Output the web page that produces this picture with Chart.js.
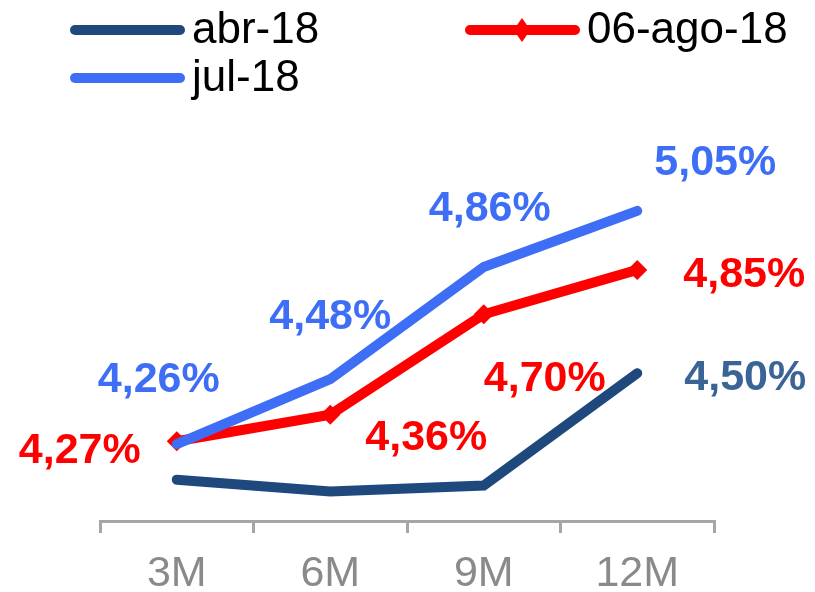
<!DOCTYPE html>
<html>
<head>
<meta charset="utf-8">
<script src="https://cdn.jsdelivr.net/npm/chart.js@4"></script>
<style>
    html, body { margin: 0; padding: 0; background: #fff; }
    #wrap { width: 815px; height: 592px; }
</style>
</head>
<body>
<div id="wrap"><canvas id="curve"></canvas></div>
<script>
const tenors = ["3M", "6M", "9M", "12M"];
const abr18 = [4.14, 4.10, 4.12, 4.50];
const ago18 = [4.27, 4.36, 4.70, 4.85];
const jul18 = [4.26, 4.48, 4.86, 5.05];

// which points get a value label
const abrLabels = [false, false, false, true];
const agoLabels = [true, true, true, true];
const julLabels = [true, true, true, true];

const fontFamily = "'Liberation Sans', Arial, sans-serif";

function pct(n) {
    return n.toFixed(2).replace(".", ",") + "%";
}

// legend drawn in two columns, swatch = thick round-capped line
const legendPlugin = {
    id: "lineLegend",
    afterDraw(chart) {
        const ctx = chart.ctx;
        chart.data.datasets.forEach((ds, i) => {
            const x = 75 + (i % 2) * 395;
            const y = 30 + Math.floor(i / 2) * 48;
            ctx.save();
            ctx.strokeStyle = ds.borderColor;
            ctx.lineWidth = 10;
            ctx.lineCap = "round";
            ctx.beginPath();
            ctx.moveTo(x, y);
            ctx.lineTo(x + 105, y);
            ctx.stroke();
            if (ds.pointRadius > 0) {
                const cx = x + 52, r = 12;
                ctx.fillStyle = ds.borderColor;
                ctx.beginPath();
                ctx.moveTo(cx, y - r);
                ctx.lineTo(cx + r * 0.7, y);
                ctx.lineTo(cx, y + r);
                ctx.lineTo(cx - r * 0.7, y);
                ctx.closePath();
                ctx.fill();
            }
            ctx.fillStyle = "#000";
            ctx.font = "44px " + fontFamily;
            ctx.textBaseline = "middle";
            ctx.textAlign = "left";
            ctx.fillText(ds.label, x + 117, y + 1);
            ctx.restore();
        });
    }
};

// value labels placed beside each point
const valueLabels = {
    id: "valueLabels",
    afterDatasetsDraw(chart) {
        const ctx = chart.ctx;
        chart.data.datasets.forEach((ds, i) => {
            const meta = chart.getDatasetMeta(i);
            meta.data.forEach((pt, j) => {
                if (!ds.showLabel[j]) return;
                const off = ds.labelOffset[j];
                ctx.save();
                ctx.fillStyle = ds.labelColor;
                ctx.font = "bold 43px " + fontFamily;
                ctx.textAlign = "center";
                ctx.textBaseline = "middle";
                ctx.fillText(pct(ds.data[j]), pt.x + off[0], pt.y + off[1]);
                ctx.restore();
            });
        });
    }
};

new Chart(document.getElementById("curve"), {
    type: "line",
    data: {
        labels: tenors,
        datasets: [
            {
                label: "abr-18",
                data: abr18,
                borderColor: "#1f497d",
                labelColor: "#3a6496",
                borderWidth: 10,
                pointRadius: 0,
                order: 2,
                showLabel: abrLabels,
                labelOffset: [[0, 0], [0, 0], [0, 0], [108, 5]]
            },
            {
                label: "06-ago-18",
                data: ago18,
                borderColor: "#ff0000",
                backgroundColor: "#ff0000",
                labelColor: "#ff0000",
                borderWidth: 10,
                pointStyle: "rectRot",
                pointRadius: 10,
                pointBorderWidth: 0,
                order: 1,
                showLabel: agoLabels,
                labelOffset: [[-97, 10], [96, 23], [61, 65], [107, 5]]
            },
            {
                label: "jul-18",
                data: jul18,
                borderColor: "#3d6ef5",
                labelColor: "#3d6ef5",
                borderWidth: 10,
                pointRadius: 0,
                order: 0,
                showLabel: julLabels,
                labelOffset: [[-18, -64], [0, -62], [6, -58], [78, -48]]
            }
        ]
    },
    options: {
        responsive: true,
        maintainAspectRatio: false,
        animation: false,
        layout: { padding: { left: 100, right: 101, top: 137, bottom: 0 } },
        elements: { line: { tension: 0, borderCapStyle: "round", borderJoinStyle: "miter" } },
        plugins: { legend: { display: false }, tooltip: { enabled: false } },
        scales: {
            x: {
                offset: true,
                afterFit(scale) { scale.height = 71; },
                grid: {
                    offset: true,
                    drawOnChartArea: false,
                    drawTicks: true,
                    tickLength: 12,
                    color: "#a6a6a6",
                    lineWidth: 3
                },
                border: { color: "#a6a6a6", width: 3 },
                ticks: {
                    color: "#8a8a8a",
                    padding: 15,
                    font: { family: fontFamily, size: 43 }
                }
            },
            y: {
                display: false,
                min: 4.0,
                max: 5.3
            }
        }
    },
    plugins: [legendPlugin, valueLabels]
});
</script>
</body>
</html>
